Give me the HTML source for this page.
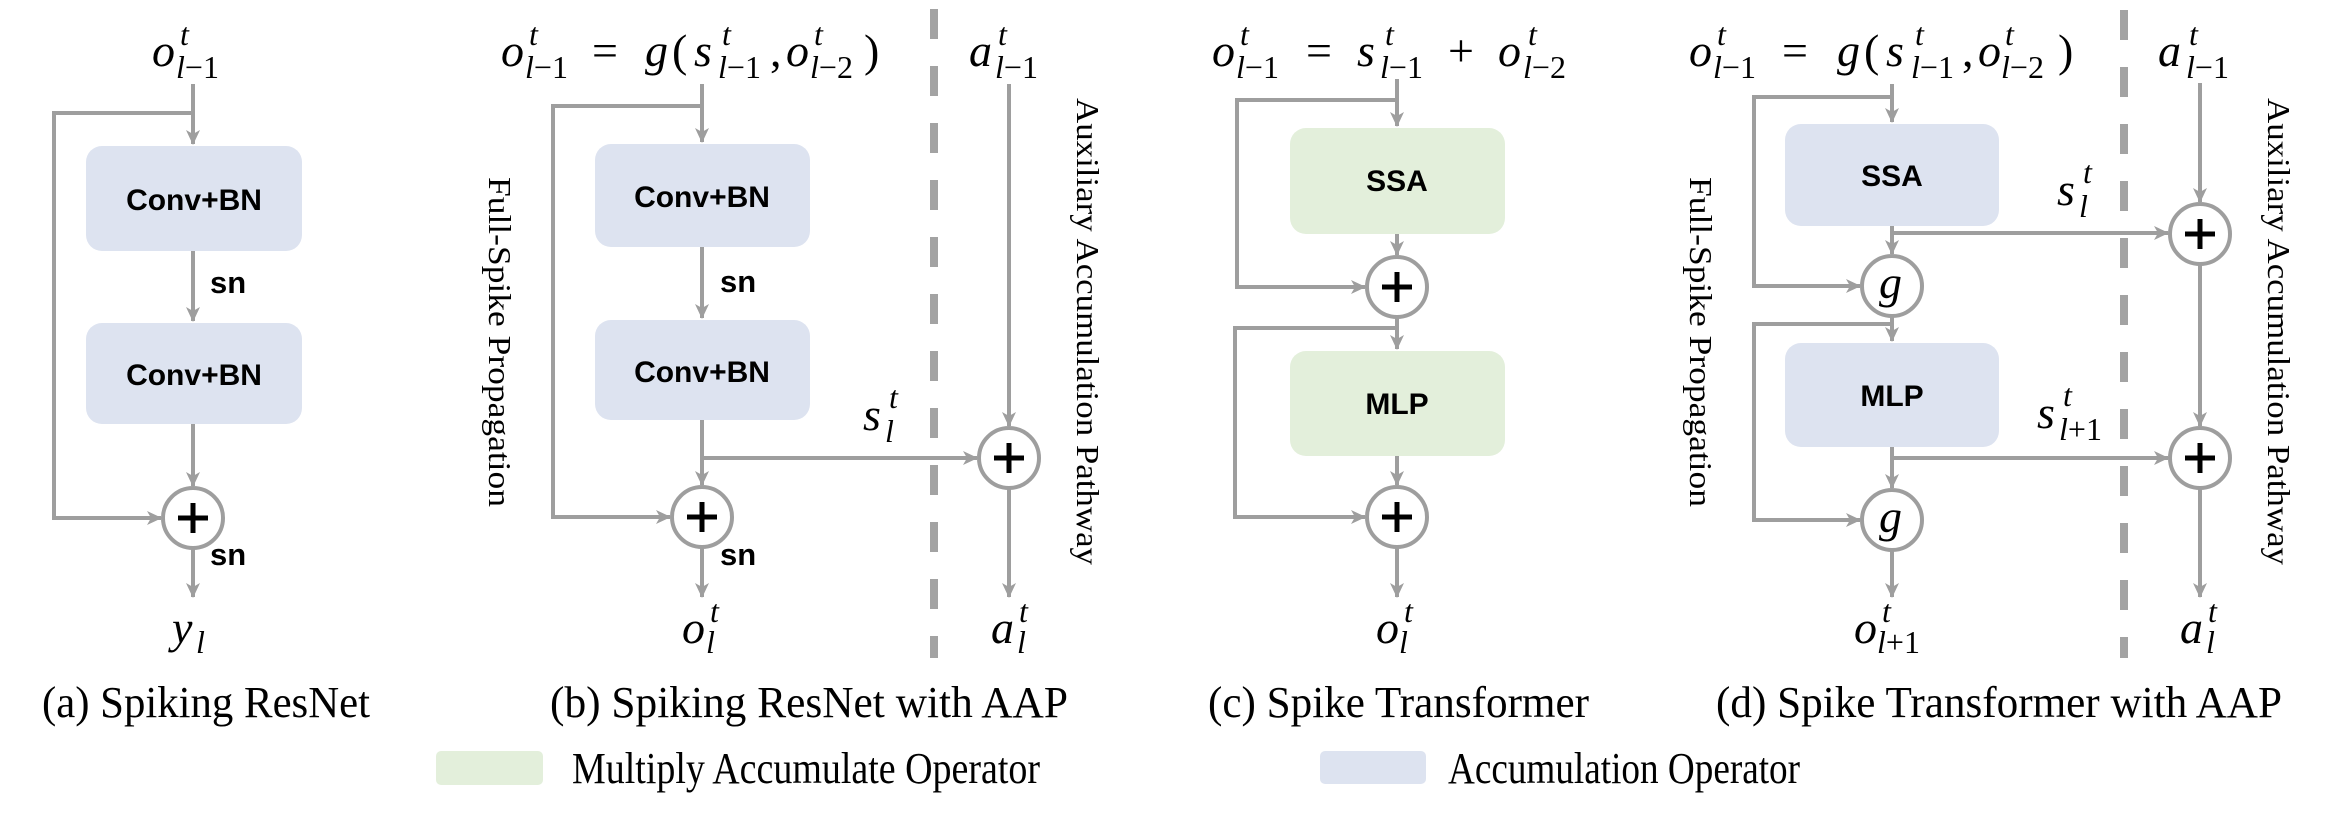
<!DOCTYPE html>
<html><head><meta charset="utf-8">
<style>
html,body{margin:0;padding:0;background:#fff;}
svg{display:block;}
.m{font-family:"Liberation Serif",serif;font-style:italic;font-size:46px;fill:#000;}
.s{font-family:"Liberation Serif",serif;font-style:italic;font-size:32px;fill:#000;}
.n{font-family:"Liberation Serif",serif;font-style:normal;}
.bx{font-family:"Liberation Sans",sans-serif;font-weight:bold;font-size:30px;fill:#000;text-anchor:middle;}
.sn{font-family:"Liberation Sans",sans-serif;font-weight:bold;font-size:31px;fill:#000;}
.cap{font-family:"Liberation Serif",serif;font-size:44px;fill:#000;}
.vt{font-family:"Liberation Serif",serif;font-size:32px;fill:#000;}
.ln{stroke:#9e9e9e;stroke-width:4;fill:none;}
.cir{stroke:#9e9e9e;stroke-width:4;fill:#fff;}
.pl{stroke:#000;stroke-width:5;}
.dash{stroke:#a3a3a3;stroke-width:8;stroke-dasharray:30 27;}
</style></head>
<body>
<svg width="2340" height="814" viewBox="0 0 2340 814" xmlns="http://www.w3.org/2000/svg">
<defs>
<marker id="ar" markerUnits="userSpaceOnUse" markerWidth="16" markerHeight="16" refX="14" refY="8" orient="auto">
<path d="M0,1 L15,8 L0,15 L4,8 z" fill="#9e9e9e"/>
</marker>
</defs>

<!-- ========== (a) ========== -->
<text class="m" x="152" y="66">o</text><text class="s" x="180" y="45">t</text><text class="s" x="176" y="78">l<tspan class="n">−1</tspan></text>
<path class="ln" d="M193,84 V144" marker-end="url(#ar)"/>
<path class="ln" d="M193,113 H54 V518 H161" marker-end="url(#ar)"/>
<rect x="86" y="146" width="216" height="105" rx="16" fill="#dde3f0"/>
<text class="bx" x="194" y="210">Conv+BN</text>
<path class="ln" d="M193,251 V321" marker-end="url(#ar)"/>
<text class="sn" x="210" y="293">sn</text>
<rect x="86" y="323" width="216" height="101" rx="16" fill="#dde3f0"/>
<text class="bx" x="194" y="385">Conv+BN</text>
<path class="ln" d="M193,424 V486" marker-end="url(#ar)"/>
<circle class="cir" cx="193" cy="518" r="30"/>
<path class="pl" d="M178,518 H208 M193,503 V533"/>
<path class="ln" d="M193,548 V597" marker-end="url(#ar)"/>
<text class="sn" x="210" y="565">sn</text>
<text class="m" x="172" y="643">y</text><text class="s" x="196" y="653">l</text>
<text class="cap" x="42" y="717" textLength="328" lengthAdjust="spacingAndGlyphs">(a) Spiking ResNet</text>

<!-- ========== (b) ========== -->
<text class="m" x="501" y="66">o</text><text class="s" x="529" y="45">t</text><text class="s" x="525" y="78">l<tspan class="n">−1</tspan></text>
<text class="m n" x="592" y="66">=</text>
<text class="m" x="645" y="66">g</text><text class="m n" x="672" y="66">(</text>
<text class="m" x="694" y="66">s</text><text class="s" x="722" y="45">t</text><text class="s" x="718" y="78">l<tspan class="n">−1</tspan></text>
<text class="m n" x="770" y="66">,</text>
<text class="m" x="786" y="66">o</text><text class="s" x="814" y="45">t</text><text class="s" x="810" y="78">l<tspan class="n">−2</tspan></text>
<text class="m n" x="864" y="66">)</text>
<path class="ln" d="M702,84 V142" marker-end="url(#ar)"/>
<path class="ln" d="M702,106 H553 V517 H670" marker-end="url(#ar)"/>
<rect x="595" y="144" width="215" height="103" rx="16" fill="#dde3f0"/>
<text class="bx" x="702" y="207">Conv+BN</text>
<path class="ln" d="M702,247 V318" marker-end="url(#ar)"/>
<text class="sn" x="720" y="292">sn</text>
<rect x="595" y="320" width="215" height="100" rx="16" fill="#dde3f0"/>
<text class="bx" x="702" y="382">Conv+BN</text>
<path class="ln" d="M702,420 V485" marker-end="url(#ar)"/>
<path class="ln" d="M702,458 H977" marker-end="url(#ar)"/>
<circle class="cir" cx="702" cy="517" r="30"/>
<path class="pl" d="M687,517 H717 M702,502 V532"/>
<path class="ln" d="M702,547 V597" marker-end="url(#ar)"/>
<text class="sn" x="720" y="565">sn</text>
<text class="m" x="682" y="643">o</text><text class="s" x="710" y="622">t</text><text class="s" x="706" y="653">l</text>
<text class="m" x="863" y="430">s</text><text class="s" x="889" y="408">t</text><text class="s" x="885" y="442">l</text>
<line class="dash" x1="934" y1="9" x2="934" y2="658"/>
<text class="m" x="969" y="66">a</text><text class="s" x="998" y="45">t</text><text class="s" x="995" y="78">l<tspan class="n">−1</tspan></text>
<path class="ln" d="M1009,84 V426" marker-end="url(#ar)"/>
<circle class="cir" cx="1009" cy="458" r="30"/>
<path class="pl" d="M994,458 H1024 M1009,443 V473"/>
<path class="ln" d="M1009,488 V597" marker-end="url(#ar)"/>
<text class="m" x="991" y="643">a</text><text class="s" x="1019" y="622">t</text><text class="s" x="1017" y="653">l</text>
<text class="vt" transform="translate(489,177) rotate(90)" x="0" y="0" textLength="330" lengthAdjust="spacingAndGlyphs">Full-Spike Propagation</text>
<text class="vt" transform="translate(1077,98) rotate(90)" x="0" y="0" textLength="467" lengthAdjust="spacingAndGlyphs">Auxiliary Accumulation Pathway</text>
<text class="cap" x="550" y="717" textLength="518" lengthAdjust="spacingAndGlyphs">(b) Spiking ResNet with AAP</text>

<!-- legend -->
<rect x="436" y="751" width="107" height="34" rx="5" fill="#e3efdb"/>
<text class="cap" x="572" y="783" font-size="40" textLength="468" lengthAdjust="spacingAndGlyphs">Multiply Accumulate Operator</text>
<rect x="1320" y="751" width="106" height="33" rx="5" fill="#dde3f0"/>
<text class="cap" x="1448" y="783" font-size="40" textLength="352" lengthAdjust="spacingAndGlyphs">Accumulation Operator</text>

<!-- ========== (c) ========== -->
<text class="m" x="1212" y="66">o</text><text class="s" x="1240" y="45">t</text><text class="s" x="1236" y="78">l<tspan class="n">−1</tspan></text>
<text class="m n" x="1306" y="66">=</text>
<text class="m" x="1357" y="66">s</text><text class="s" x="1385" y="45">t</text><text class="s" x="1380" y="78">l<tspan class="n">−1</tspan></text>
<text class="m n" x="1448" y="66">+</text>
<text class="m" x="1498" y="66">o</text><text class="s" x="1528" y="45">t</text><text class="s" x="1523" y="78">l<tspan class="n">−2</tspan></text>
<path class="ln" d="M1397,79 V126" marker-end="url(#ar)"/>
<path class="ln" d="M1397,100 H1237 V287 H1365" marker-end="url(#ar)"/>
<rect x="1290" y="128" width="215" height="106" rx="16" fill="#e3efdb"/>
<text class="bx" x="1397" y="191">SSA</text>
<path class="ln" d="M1397,234 V255" marker-end="url(#ar)"/>
<circle class="cir" cx="1397" cy="287" r="30"/>
<path class="pl" d="M1382,287 H1412 M1397,272 V302"/>
<path class="ln" d="M1397,317 V349" marker-end="url(#ar)"/>
<path class="ln" d="M1397,328 H1235 V517 H1365" marker-end="url(#ar)"/>
<rect x="1290" y="351" width="215" height="105" rx="16" fill="#e3efdb"/>
<text class="bx" x="1397" y="414">MLP</text>
<path class="ln" d="M1397,456 V485" marker-end="url(#ar)"/>
<circle class="cir" cx="1397" cy="517" r="30"/>
<path class="pl" d="M1382,517 H1412 M1397,502 V532"/>
<path class="ln" d="M1397,547 V597" marker-end="url(#ar)"/>
<text class="m" x="1376" y="643">o</text><text class="s" x="1404" y="622">t</text><text class="s" x="1399" y="653">l</text>
<text class="cap" x="1208" y="717" textLength="381" lengthAdjust="spacingAndGlyphs">(c) Spike Transformer</text>

<!-- ========== (d) ========== -->
<text class="m" x="1689" y="66">o</text><text class="s" x="1717" y="45">t</text><text class="s" x="1713" y="78">l<tspan class="n">−1</tspan></text>
<text class="m n" x="1782" y="66">=</text>
<text class="m" x="1837" y="66">g</text><text class="m n" x="1864" y="66">(</text>
<text class="m" x="1886" y="66">s</text><text class="s" x="1915" y="45">t</text><text class="s" x="1911" y="78">l<tspan class="n">−1</tspan></text>
<text class="m n" x="1962" y="66">,</text>
<text class="m" x="1978" y="66">o</text><text class="s" x="2005" y="45">t</text><text class="s" x="2001" y="78">l<tspan class="n">−2</tspan></text>
<text class="m n" x="2058" y="66">)</text>
<path class="ln" d="M1892,84 V122" marker-end="url(#ar)"/>
<path class="ln" d="M1892,97 H1754 V286 H1860" marker-end="url(#ar)"/>
<rect x="1785" y="124" width="214" height="102" rx="16" fill="#dde3f0"/>
<text class="bx" x="1892" y="186">SSA</text>
<path class="ln" d="M1892,226 V254" marker-end="url(#ar)"/>
<path class="ln" d="M1892,233 H2168" marker-end="url(#ar)"/>
<circle class="cir" cx="1892" cy="286" r="30"/>
<text class="m" x="1879" y="298">g</text>
<path class="ln" d="M1892,316 V341" marker-end="url(#ar)"/>
<path class="ln" d="M1892,324 H1754 V520 H1860" marker-end="url(#ar)"/>
<rect x="1785" y="343" width="214" height="104" rx="16" fill="#dde3f0"/>
<text class="bx" x="1892" y="406">MLP</text>
<path class="ln" d="M1892,447 V488" marker-end="url(#ar)"/>
<path class="ln" d="M1892,458 H2168" marker-end="url(#ar)"/>
<circle class="cir" cx="1892" cy="520" r="30"/>
<text class="m" x="1879" y="532">g</text>
<path class="ln" d="M1892,550 V597" marker-end="url(#ar)"/>
<text class="m" x="1854" y="643">o</text><text class="s" x="1882" y="622">t</text><text class="s" x="1877" y="653">l<tspan class="n">+1</tspan></text>
<text class="m" x="2057" y="205">s</text><text class="s" x="2083" y="183">t</text><text class="s" x="2079" y="217">l</text>
<text class="m" x="2037" y="428">s</text><text class="s" x="2063" y="406">t</text><text class="s" x="2059" y="440">l<tspan class="n">+1</tspan></text>
<line class="dash" x1="2124" y1="10" x2="2124" y2="658"/>
<text class="m" x="2158" y="66">a</text><text class="s" x="2189" y="45">t</text><text class="s" x="2186" y="78">l<tspan class="n">−1</tspan></text>
<path class="ln" d="M2200,83 V202" marker-end="url(#ar)"/>
<circle class="cir" cx="2200" cy="234" r="30"/>
<path class="pl" d="M2185,234 H2215 M2200,219 V249"/>
<path class="ln" d="M2200,264 V426" marker-end="url(#ar)"/>
<circle class="cir" cx="2200" cy="458" r="30"/>
<path class="pl" d="M2185,458 H2215 M2200,443 V473"/>
<path class="ln" d="M2200,488 V597" marker-end="url(#ar)"/>
<text class="m" x="2180" y="643">a</text><text class="s" x="2208" y="622">t</text><text class="s" x="2206" y="653">l</text>
<text class="vt" transform="translate(1690,177) rotate(90)" x="0" y="0" textLength="330" lengthAdjust="spacingAndGlyphs">Full-Spike Propagation</text>
<text class="vt" transform="translate(2268,98) rotate(90)" x="0" y="0" textLength="467" lengthAdjust="spacingAndGlyphs">Auxiliary Accumulation Pathway</text>
<text class="cap" x="1716" y="717" textLength="566" lengthAdjust="spacingAndGlyphs">(d) Spike Transformer with AAP</text>
</svg>
</body></html>
